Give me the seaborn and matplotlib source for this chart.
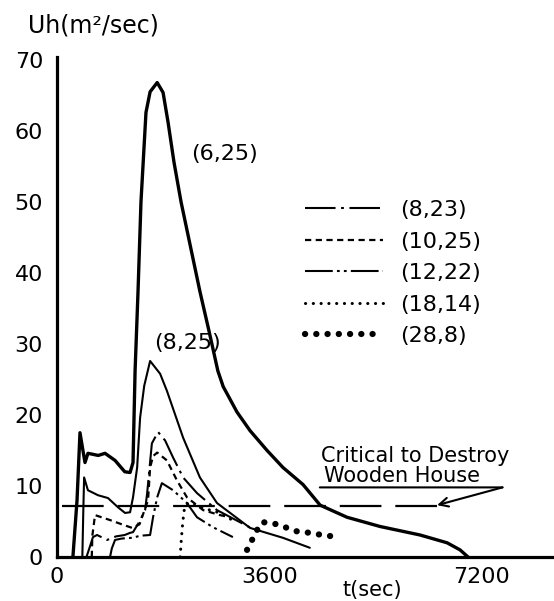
import matplotlib
matplotlib.use("Agg")
import matplotlib.pyplot as plt
import pandas as pd
import seaborn as sns

# Uh (m^2/sec) against time t (sec)
t_6_25 = [270, 340, 390, 440, 475, 525, 700, 815, 985, 1150,
          1240, 1290, 1325, 1375, 1425, 1510, 1580, 1700, 1800, 1885,
          1985, 2105, 2425, 2580, 2730, 2820, 3055, 3275, 3565,
          3835, 4175, 4465, 4920, 5480, 6160, 6620, 6840, 6975]
uh_6_25 = [0, 8, 17.5, 15, 13.3, 14.6, 14.3, 14.6, 13.6, 12.0,
           11.9, 13.3, 26.2, 37.4, 50, 62.6, 65.5, 66.8, 65.4, 61.2,
           55.6, 50.0, 37.4, 31.8, 26.2, 24.0, 20.4, 17.8, 15.0,
           12.6, 10.2, 7.3, 5.6, 4.3, 3.1, 2.0, 1.0, 0]

t_8_25 = [430, 445, 460, 525, 695, 865, 1035, 1155, 1240, 1290,
          1360, 1410, 1480, 1580, 1750, 1865, 2140, 2425, 2715, 3275,
          3835, 4290]
uh_8_25 = [0, 6, 11.2, 9.4, 8.7, 8.3, 7.0, 6.2, 6.3, 8.4,
           12.6, 19.6, 24.1, 27.6, 25.8, 23.4, 16.8, 11.2, 7.6, 4.1,
           2.7, 1.3]

t_8_23 = [500, 560, 610, 680, 850, 1000, 1150, 1240, 1290, 1400,
          1495, 1530, 1610, 1715, 1835, 1970, 2140, 2375, 2715, 3105, 3360]
uh_8_23 = [0, 1.5, 2.8, 3.1, 2.4, 2.9, 3.1, 3.4, 3.5, 5.0,
           6.6, 9.0, 16.0, 17.6, 16.4, 14.0, 11.2, 9.0, 6.6, 4.9, 3.8]

t_10_25 = [590, 600, 645, 900, 1100, 1275, 1400, 1545, 1580, 1630,
           1700, 1865, 2035, 2205, 2480, 2765, 2935]
uh_10_25 = [0, 3.0, 5.9, 5.2, 4.6, 4.1, 4.6, 8.0, 12.6, 14.2,
            14.7, 13.6, 10.8, 8.4, 6.6, 5.9, 5.6]

t_12_22 = [900, 930, 985, 1100, 1270, 1420, 1580, 1630, 1700, 1780,
           1970, 2205, 2375, 2645, 2985]
uh_12_22 = [0, 1.2, 2.4, 2.6, 2.7, 3.0, 3.1, 5.6, 8.4, 10.4,
            9.4, 7.6, 5.6, 4.2, 2.8]

t_18_14 = [2090, 2110, 2135, 2165, 2220, 2420, 2600, 2765, 2900, 3020]
uh_18_14 = [0, 2.5, 5.0, 7.0, 7.6, 7.0, 6.6, 6.2, 5.6, 4.9]

t_28_8 = [3225, 3310, 3395, 3480, 3650, 3870, 4075, 4295, 4495, 4685, 4800]
uh_28_8 = [1.0, 2.4, 3.8, 4.9, 4.8, 4.2, 3.6, 3.4, 3.1, 2.9, 2.8]

# critical level for wooden houses and the span of the dashed line
critical_uh = 7.2
critical_span = [80, 6500]

x_ticks = [0, 1200, 2400, 3600, 4800, 6000, 7200, 8400]
x_tick_labels = ["0", "", "", "3600", "", "", "7200", ""]
y_ticks = [0, 10, 20, 30, 40, 50, 60, 70]

sns.set_style("white")
plt.rcParams["font.family"] = ["DejaVu Sans"]
plt.rcParams["lines.scale_dashes"] = False
plt.rcParams["text.color"] = "black"
plt.rcParams["axes.labelcolor"] = "black"
plt.rcParams["xtick.color"] = "black"
plt.rcParams["ytick.color"] = "black"

fig = plt.figure(figsize=(5.54, 6.01), dpi=100)
ax = fig.add_axes([57 / 554, 44 / 601, 495 / 554, 500 / 601])


def draw(t, uh, lw, dashes=None, cap="butt", label=None):
    df = pd.DataFrame({"t": t, "uh": uh})
    sns.lineplot(data=df, x="t", y="uh", ax=ax, color="black", lw=lw,
                 errorbar=None, sort=False)
    line = ax.lines[-1]
    if dashes is not None:
        line.set_dashes(dashes)
    line.set_dash_capstyle(cap)
    line.set_solid_capstyle("round")
    line.set_solid_joinstyle("round")
    line.set_label(label if label else "_nolegend_")
    return line


draw(t_6_25, uh_6_25, 2.4)
draw(t_8_25, uh_8_25, 1.5)
h1 = draw(t_8_23, uh_8_23, 1.5, (22, 4, 2, 4), label="(8,23)")
h2 = draw(t_10_25, uh_10_25, 1.6, (4.5, 3.2), label="(10,25)")
h3 = draw(t_12_22, uh_12_22, 1.5, (20, 3, 2, 3, 2, 3), label="(12,22)")
h4 = draw(t_18_14, uh_18_14, 2.2, (0.1, 5.5), cap="round", label="(18,14)")
h5 = draw(t_28_8, uh_28_8, 4.5, (0.1, 8.0), cap="round", label="(28,8)")

# dashed critical line
crit = ax.hlines(critical_uh, critical_span[0], critical_span[1],
                 color="black", lw=1.6)
crit.set_linestyle((0, (30, 10)))

ax.text(4480, 14.2, "Critical to Destroy", fontsize=15, va="center")
ax.text(4530, 11.4, "Wooden House", fontsize=15, va="center")
ax.annotate("", xy=(7560, 9.8), xytext=(4460, 9.8),
            arrowprops=dict(arrowstyle="-", lw=1.5, color="black",
                            shrinkA=0, shrinkB=0))
ax.annotate("", xy=(6450, 7.3), xytext=(7560, 9.8),
            arrowprops=dict(arrowstyle="->", lw=1.5, color="black",
                            shrinkA=0, shrinkB=0, mutation_scale=16))

ax.text(2850, 56.7, "(6,25)", fontsize=16, ha="center", va="center")
ax.text(2210, 30.2, "(8,25)", fontsize=16, ha="center", va="center")

ax.legend(handles=[h1, h2, h3, h4, h5], loc="upper left",
          bbox_to_anchor=(0.501, 0.714), frameon=False, fontsize=16,
          handlelength=3.5, handletextpad=0.8, labelspacing=0.52,
          borderpad=0, borderaxespad=0)

ax.set_xlim(0, 8400)
ax.set_ylim(0, 70.4)
ax.set_xticks(x_ticks)
ax.set_xticklabels(x_tick_labels)
ax.set_yticks(y_ticks)
ax.tick_params(axis="both", direction="in", labelsize=16, color="black",
               labelcolor="black")
ax.tick_params(axis="x", length=8, width=1.6, pad=7)
ax.tick_params(axis="y", length=6, width=2.0, pad=10)

for side in ["top", "right"]:
    ax.spines[side].set_visible(False)
for side in ["left", "bottom"]:
    ax.spines[side].set_linewidth(2.3)
    ax.spines[side].set_color("black")

ax.set_xlabel("t(sec)", fontsize=15)
ax.xaxis.set_label_coords((372 - 57) / 495, (557 - 590) / 500)
ax.xaxis.label.set_va("center")
ax.set_ylabel("Uh(m²/sec)", fontsize=17, rotation=0, ha="left", va="center")
ax.yaxis.set_label_coords((28 - 57) / 495, (557 - 25) / 500)

fig.savefig("out.png", dpi=100)
